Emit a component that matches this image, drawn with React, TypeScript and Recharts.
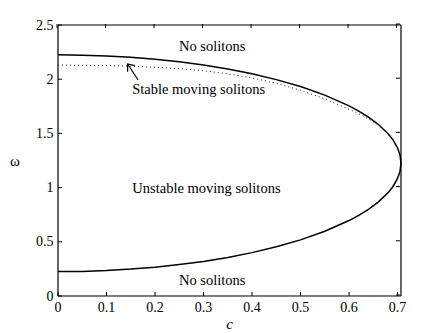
import React from 'react';
import { LineChart, Line, XAxis, YAxis, ReferenceDot, ReferenceLine } from 'recharts';

const curveC = [0, 0.05, 0.1, 0.15, 0.2, 0.25, 0.3, 0.35, 0.4, 0.45, 0.5, 0.55, 0.6, 0.62, 0.64, 0.66, 0.68, 0.69, 0.7, 0.705, 0.7071];
const upperOmega = [2.225, 2.222, 2.215, 2.202, 2.184, 2.16, 2.131, 2.094, 2.05, 1.996, 1.932, 1.853, 1.754, 1.706, 1.65, 1.584, 1.499, 1.444, 1.366, 1.302, 1.225];
const lowerOmega = [0.225, 0.227, 0.235, 0.248, 0.266, 0.29, 0.319, 0.356, 0.4, 0.454, 0.518, 0.597, 0.696, 0.744, 0.8, 0.866, 0.951, 1.006, 1.084, 1.148, 1.225];

const stableC = [0, 0.05, 0.1, 0.15, 0.2, 0.25, 0.3, 0.35, 0.4, 0.45, 0.5, 0.55, 0.6, 0.63, 0.66, 0.68];
const stableOmega = [2.13, 2.129, 2.126, 2.12, 2.11, 2.097, 2.078, 2.05, 2.012, 1.962, 1.898, 1.818, 1.722, 1.66, 1.58, 1.499];

const xTicks = [0, 0.1, 0.2, 0.3, 0.4, 0.5, 0.6, 0.7];
const yTicks = [0, 0.5, 1, 1.5, 2, 2.5];
const xMax = 0.7071;
const yMax = 2.5;

const regionLabels = [
  { text: 'No solitons', c: 0.318, w: 2.305 },
  { text: 'Stable moving solitons', c: 0.29, w: 1.91 },
  { text: 'Unstable moving solitons', c: 0.306, w: 1.0 },
  { text: 'No solitons', c: 0.318, w: 0.148 },
];

const arrowShaft = [
  { x: 0.1651, y: 1.993 },
  { x: 0.1435, y: 2.14 },
];
const arrowHead = [
  { x: 0.1435, y: 2.069 },
  { x: 0.1435, y: 2.14 },
  { x: 0.1585, y: 2.125 },
];

const closedCurve = [
  ...curveC.map((c, i) => ({ x: c, y: upperOmega[i] })),
  ...curveC.slice().reverse().map((c, i) => ({ x: c, y: lowerOmega[lowerOmega.length - 1 - i] })),
];
const stableCurve = stableC.map((c, i) => ({ x: c, y: stableOmega[i] }));

const FONT = '"Liberation Serif", "Times New Roman", serif';
const AXIS_W = 1.2;

const BottomTick = (props: any) => {
  const { x, y, payload } = props;
  return (
    <g>
      <line x1={x} x2={x} y1={y} y2={y - 4} stroke="#000" strokeWidth={1} />
      <text x={x} y={y + 11} textAnchor="middle" dominantBaseline="central" fontFamily={FONT} fontSize={14} fill="#000">
        {payload.value}
      </text>
    </g>
  );
};
const LeftTick = (props: any) => {
  const { x, y, payload } = props;
  return (
    <g>
      <line x1={x} x2={x + 4} y1={y} y2={y} stroke="#000" strokeWidth={1} />
      <text x={x - 4.5} y={y} textAnchor="end" dominantBaseline="central" fontFamily={FONT} fontSize={14} fill="#000">
        {payload.value}
      </text>
    </g>
  );
};

const TopTickLabel = (props: any) => {
  const { viewBox } = props;
  if (!viewBox) return null;
  const { x, y } = viewBox;
  return <line x1={x} x2={x} y1={y} y2={y + 4} stroke="#000" strokeWidth={1} />;
};
const RightTickLabel = (props: any) => {
  const { viewBox } = props;
  if (!viewBox) return null;
  const { x, y } = viewBox;
  return <line x1={x} x2={x - 4} y1={y} y2={y} stroke="#000" strokeWidth={1} />;
};

export default function App() {
  return (
    <div style={{ position: 'absolute', left: 0, top: 0, background: '#fff' }}>
      <LineChart width={443} height={333} margin={{ top: 25, right: 42, bottom: 0, left: 0 }}>
        <XAxis
          dataKey="x"
          type="number"
          domain={[0, xMax]}
          ticks={xTicks}
          height={37}
          tickSize={0}
          tickMargin={0}
          tickLine={false}
          tick={<BottomTick />}
          axisLine={{ stroke: '#000', strokeWidth: AXIS_W }}
          label={{ value: 'c', position: 'insideBottom', offset: 4, fontFamily: FONT, fontSize: 15, fontStyle: 'italic', fill: '#000' }}
        />
        <YAxis
          type="number"
          domain={[0, yMax]}
          ticks={yTicks}
          width={58}
          tickSize={0}
          tickMargin={0}
          tickLine={false}
          tick={<LeftTick />}
          axisLine={{ stroke: '#000', strokeWidth: AXIS_W }}
          label={{ value: 'ω', position: 'insideLeft', offset: 10, fontFamily: FONT, fontSize: 15, fill: '#000' }}
        />
        <ReferenceLine y={yMax} stroke="#000" strokeWidth={AXIS_W} ifOverflow="visible" />
        <ReferenceLine x={xMax} stroke="#000" strokeWidth={AXIS_W} ifOverflow="visible" />
        {xTicks.map((t) => (
          <ReferenceDot
            key={'tx' + t}
            x={t}
            y={yMax}
            r={1}
            fill="none"
            stroke="none"
            ifOverflow="visible"
            label={<TopTickLabel />}
          />
        ))}
        {yTicks.map((t) => (
          <ReferenceDot
            key={'ty' + t}
            x={xMax}
            y={t}
            r={1}
            fill="none"
            stroke="none"
            ifOverflow="visible"
            label={<RightTickLabel />}
          />
        ))}
        <Line data={closedCurve} dataKey="y" type="linear" stroke="#000" strokeWidth={1.5} dot={false} isAnimationActive={false} />
        <Line data={stableCurve} dataKey="y" type="linear" stroke="#222" strokeWidth={1} strokeDasharray="1 3" dot={false} isAnimationActive={false} />
        <Line data={arrowShaft} dataKey="y" type="linear" stroke="#000" strokeWidth={1.2} dot={false} isAnimationActive={false} />
        <Line data={arrowHead} dataKey="y" type="linear" stroke="#000" strokeWidth={1.2} dot={false} isAnimationActive={false} />
        {regionLabels.map((l, i) => (
          <ReferenceDot
            key={i}
            x={l.c}
            y={l.w}
            r={0}
            fill="none"
            stroke="none"
            label={{ value: l.text, position: 'center', fontFamily: FONT, fontSize: 14.5, fill: '#000' }}
          />
        ))}
      </LineChart>
    </div>
  );
}
